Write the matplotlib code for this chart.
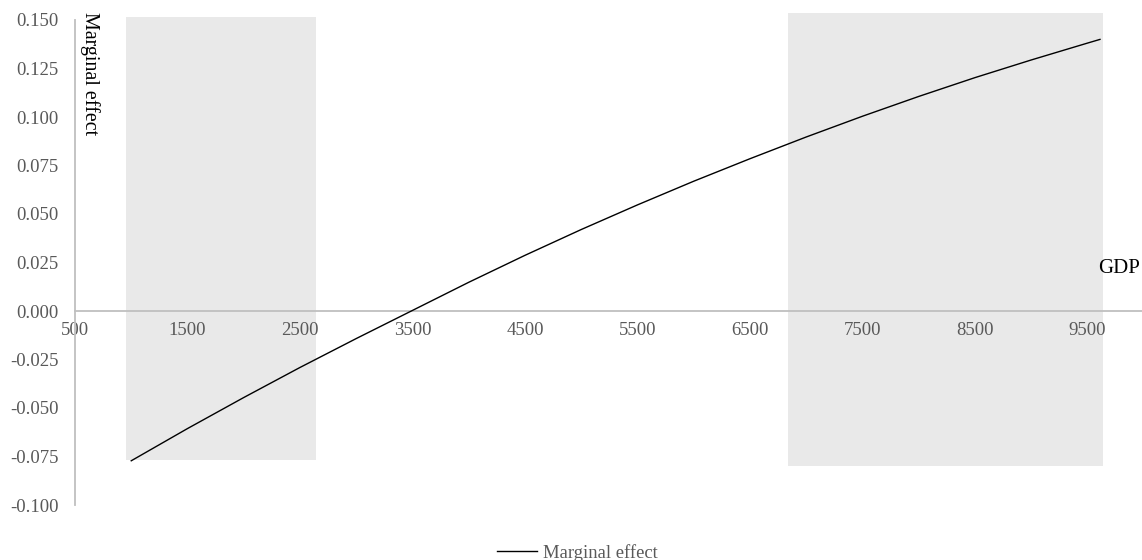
import matplotlib
matplotlib.use("Agg")
import matplotlib.pyplot as plt
from matplotlib.patches import Rectangle

# ---- data ----
gdp = [1000, 1500, 2000, 2500, 3000, 3500, 4000, 4500, 5000, 5500, 6000,
       6500, 7000, 7500, 8000, 8500, 9000, 9500, 9611]
marginal_effect = [-0.0772, -0.0606, -0.0446, -0.0291, -0.0142, 0.0003,
                   0.0148, 0.0287, 0.0420, 0.0547, 0.0669, 0.0785, 0.0897,
                   0.1004, 0.1106, 0.1203, 0.1294, 0.1381, 0.1400]

band_x_start = [950, 6840]
band_x_end = [2640, 9640]
band_y_low = [-0.077, -0.080]
band_y_high = [0.1515, 0.1536]

x_ticks = [500, 1500, 2500, 3500, 4500, 5500, 6500, 7500, 8500, 9500]
y_ticks = [-0.100, -0.075, -0.050, -0.025, 0.000, 0.025, 0.050, 0.075,
           0.100, 0.125, 0.150]
y_tick_labels = ["%.3f" % v for v in y_ticks]

series_name = "Marginal effect"
x_title = "GDP"
y_title = "Marginal effect"

# ---- figure ----
plt.rcParams['font.family'] = ['Liberation Serif', 'DejaVu Serif']
W, H = 1142, 560
fig = plt.figure(figsize=(W / 100, H / 100), dpi=100)
ax = fig.add_axes([75 / W, (H - 505) / H, (1143.75 - 75) / W, 485 / H])
ax.set_xlim(500, 10000)
ax.set_ylim(-0.100, 0.150)

grey_axis = '#bfbfbf'
tick_col = '#595959'

for xs, xe, yl, yh in zip(band_x_start, band_x_end, band_y_low, band_y_high):
    ax.add_patch(Rectangle((xs, yl), xe - xs, yh - yl, facecolor='#e9e9e9',
                           edgecolor='none', zorder=0.5, clip_on=False))

ax.plot(gdp, marginal_effect, color='black', lw=1.0, zorder=3,
        label=series_name)

for s in ['top', 'right']:
    ax.spines[s].set_visible(False)
ax.spines['left'].set_color(grey_axis)
ax.spines['left'].set_linewidth(1.3)
ax.spines['bottom'].set_color(grey_axis)
ax.spines['bottom'].set_linewidth(1.3)
ax.spines['bottom'].set_position(('data', 0))
ax.spines['left'].set_zorder(2.5)
ax.spines['bottom'].set_zorder(2.5)

ax.set_xticks(x_ticks)
ax.set_xticklabels([str(v) for v in x_ticks])
ax.set_yticks(y_ticks)
ax.set_yticklabels(y_tick_labels)
ax.tick_params(axis='x', length=0, pad=8, labelsize=13.5, labelcolor=tick_col)
ax.tick_params(axis='y', length=0, pad=12, labelsize=13.5, labelcolor=tick_col)
ax.patch.set_visible(False)

fig.text(89.5 / W, 1 - 12 / H, y_title, rotation=-90, ha='center', va='top',
         fontsize=14.4, color='black')
fig.text(1098 / W, 1 - 273 / H, x_title, ha='left', va='baseline',
         fontsize=15, color='black')

leg = fig.legend(loc='center', bbox_to_anchor=(577 / W, 1 - 553 / H),
                 frameon=False, fontsize=13.4, handlelength=2.15,
                 handletextpad=0.32, borderaxespad=0, borderpad=0)
for t in leg.get_texts():
    t.set_color(tick_col)

fig.savefig('out.png', dpi=100)
